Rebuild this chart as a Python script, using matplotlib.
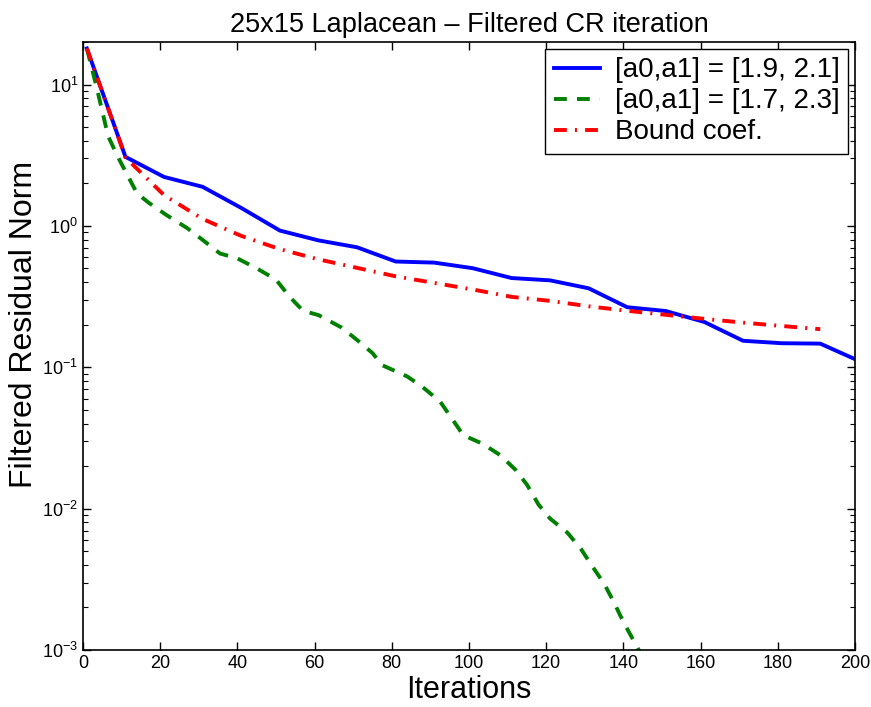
import matplotlib
matplotlib.use("Agg")
import matplotlib.pyplot as plt

plt.rcParams["font.family"] = ["Liberation Sans", "DejaVu Sans"]
plt.rcParams["mathtext.default"] = "regular"

# iteration numbers where residuals were recorded
iters_a = [1, 11, 21, 31, 41, 51, 61, 71, 81, 91, 101, 111, 121, 131, 141,
           151, 161, 171, 181, 191, 201]
resid_a = [18.0, 3.08, 2.22, 1.89, 1.34, 0.927, 0.79, 0.706, 0.56, 0.55,
           0.502, 0.428, 0.412, 0.362, 0.266, 0.25, 0.209, 0.154, 0.148,
           0.147, 0.111]

iters_b = [1, 3.5, 6.5, 9, 11.5, 14, 17, 21.5, 27, 31, 35.5, 40, 45, 50,
           53.5, 57, 61, 67, 71, 75, 77.5, 84, 88, 92.5, 95.5, 98.5, 103.5,
           108, 112, 115, 118, 121, 125.5, 129, 132, 135, 137.5, 140, 143, 146]
resid_b = [17.99, 9.66, 4.32, 3.09, 2.29, 1.70, 1.46, 1.20, 0.964, 0.796,
           0.638, 0.589, 0.501, 0.417, 0.316, 0.251, 0.234, 0.191, 0.156,
           0.126, 0.1035, 0.0861, 0.0724, 0.0573, 0.0437, 0.0331, 0.0288,
           0.0240, 0.0189, 0.0148, 0.0107, 0.00851, 0.00676, 0.00519,
           0.00389, 0.00295, 0.00219, 0.00158, 0.00112, 0.00079]

iters_bound = [1, 11, 21, 31, 41, 51, 61, 71, 81, 91, 101, 111, 121, 131,
               141, 151, 161, 171, 181, 191]
bound = [18.0, 3.05, 1.65, 1.12, 0.85, 0.685, 0.58, 0.505, 0.44, 0.395,
         0.355, 0.315, 0.295, 0.27, 0.251, 0.235, 0.22, 0.207, 0.196, 0.186]

labels = ["[a0,a1] = [1.9, 2.1]", "[a0,a1] = [1.7, 2.3]", "Bound coef."]

fig = plt.figure(figsize=(8.71, 7.07), dpi=100)
ax = fig.add_axes([0.0953, 0.0806, 0.8863, 0.86])

ax.semilogy(iters_a, resid_a, "-", color="blue", lw=2.8, label=labels[0])
ax.semilogy(iters_b, resid_b, "--", color="green", lw=2.8, label=labels[1],
            dashes=(3.3, 2.6))
ax.semilogy(iters_bound, bound, "-.", color="red", lw=2.8, label=labels[2],
            dashes=(3.3, 2.1, 0.5, 2.1))

ax.set_xlim(0, 200)
ax.set_ylim(1e-3, 20)
ax.set_xticks(range(0, 201, 20))

ax.tick_params(which="both", direction="in", top=True, right=True,
               labelsize=13)
ax.tick_params(which="major", length=6, width=1)
ax.tick_params(which="minor", length=3.5, width=0.8)
for s in ax.spines.values():
    s.set_linewidth(1.2)

ax.set_title("25x15 Laplacean \u2013 Filtered CR iteration", fontsize=19.5,
             pad=7)
ax.set_xlabel("Iterations", fontsize=22, labelpad=2)
ax.set_ylabel("Filtered Residual Norm", fontsize=23)
# label sits a bit above the axes centre in the original
ax.yaxis.set_label_coords(-0.057, 0.535)

leg = ax.legend(loc="upper right", fontsize=20, fancybox=False,
                framealpha=1, edgecolor="black", handlelength=1.65,
                labelspacing=0.18, borderpad=0.3, handletextpad=0.55,
                borderaxespad=0.25)
leg.get_frame().set_linewidth(1.0)

fig.savefig("out.png", dpi=100)
